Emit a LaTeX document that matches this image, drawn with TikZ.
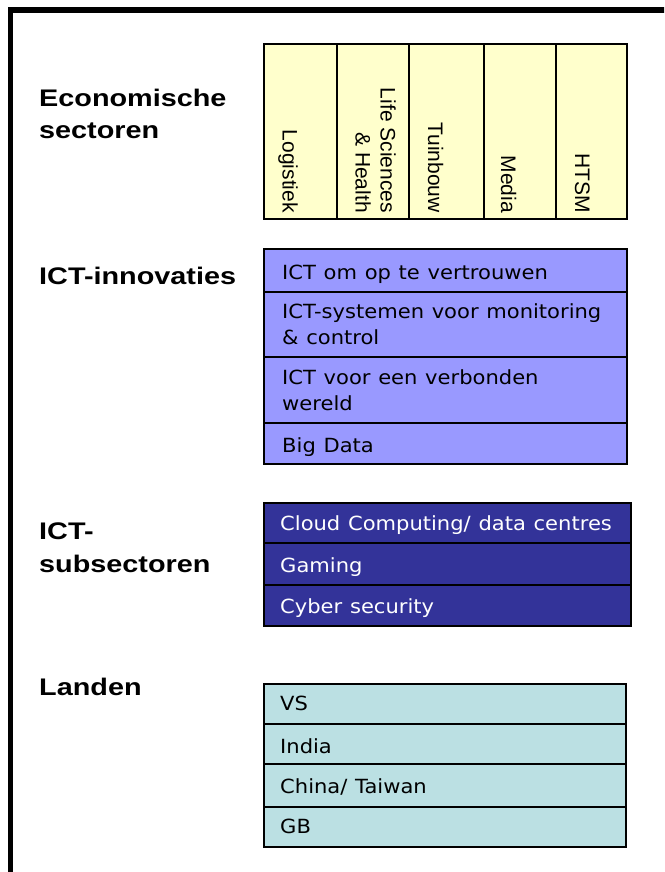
\documentclass[tikz,border=0pt]{standalone}
\usepackage{fontspec}
\setmainfont{Liberation Sans}
\newfontfamily\labfam{Liberation Sans}[FakeStretch=1.2]
\newfontfamily\cellfam{DejaVu Sans}[FakeStretch=1.08,WordSpace=1.15]
\newfontfamily\vfam{Liberation Sans}
\definecolor{sectyellow}{HTML}{FFFFCC}
\definecolor{innolav}{HTML}{9999FF}
\definecolor{subblue}{HTML}{333399}
\definecolor{landteal}{HTML}{BBE0E3}
\tikzset{
  lab/.style={anchor=base west, inner sep=0pt, align=left,
    font=\labfam\bfseries\fontsize{24}{32.5}\selectfont},
  cell/.style={draw=black, line width=1.6pt, anchor=north west, inner sep=0pt},
  ctxt/.style={anchor=base west, inner sep=0pt, align=left,
    font=\cellfam\fontsize{19.5}{26}\selectfont},
  vtxt/.style={rotate=-90, inner sep=0pt, align=right,
    font=\vfam\fontsize{21}{25}\selectfont},
}
\begin{document}
\begin{tikzpicture}[x=1pt,y=-1pt]
\useasboundingbox (0,0) rectangle (664,872);
\clip (0,0) rectangle (664,872);
\fill[white] (0,0) rectangle (664,872);
% outer frame (continues beyond the right and bottom edges)
\coordinate (fb) at (10.5,890);
\coordinate (fc) at (10.5,10);
\coordinate (fr) at (690,10);
\draw[line width=5.5pt] (fb) -- (fc) -- (fr);

% left labels (base anchor = baseline of the last line)
\node[lab] (lEco) at (39,139) {Economische\\sectoren};
\node[lab] (lInno) at (39,284) {ICT-innovaties};
\node[lab] (lSub) at (39,572) {ICT-\\subsectoren};
\node[lab] (lLand) at (39,695) {Landen};

% economische sectoren (columns)
\node[cell, fill=sectyellow, minimum width=73pt, minimum height=175pt] (cLog)  at (263,43) {};
\node[cell, fill=sectyellow, minimum width=72pt, minimum height=175pt] (cLife) at (336,43) {};
\node[cell, fill=sectyellow, minimum width=75pt, minimum height=175pt] (cTuin) at (408,43) {};
\node[cell, fill=sectyellow, minimum width=72pt, minimum height=175pt] (cMed)  at (483,43) {};
\node[cell, fill=sectyellow, minimum width=71pt, minimum height=175pt] (cHts)  at (555,43) {};
\node[vtxt, anchor=base east] (tLog) at (282.5,213) {Logistiek};
\node[vtxt, anchor=base east] (tLife) at (355.5,213) {Life Sciences\\\& Health};
\node[vtxt, anchor=base east] (tTuin) at (428,213) {Tuinbouw};
\node[vtxt, anchor=base east] (tMed) at (501,213) {Media};
\node[vtxt, anchor=base east] (tHts) at (575,213) {HTSM};

% ICT-innovaties
\node[cell, fill=innolav, minimum width=363pt, minimum height=43pt] (i1) at (263,248) {};
\node[cell, fill=innolav, minimum width=363pt, minimum height=65pt] (i2) at (263,291) {};
\node[cell, fill=innolav, minimum width=363pt, minimum height=66pt] (i3) at (263,356) {};
\node[cell, fill=innolav, minimum width=363pt, minimum height=41pt] (i4) at (263,422) {};
\node[ctxt] (ti1) at (282,279) {ICT om op te vertrouwen};
\node[ctxt] (ti2) at (282,344) {ICT-systemen voor monitoring\\\& control};
\node[ctxt] (ti3) at (282,410) {ICT voor een verbonden\\wereld};
\node[ctxt] (ti4) at (282,452) {Big Data};

% ICT-subsectoren
\node[cell, fill=subblue, minimum width=367pt, minimum height=40pt] (s1) at (263,502) {};
\node[cell, fill=subblue, minimum width=367pt, minimum height=42pt] (s2) at (263,542) {};
\node[cell, fill=subblue, minimum width=367pt, minimum height=41pt] (s3) at (263,584) {};
\node[ctxt, text=white] (ts1) at (280,530) {Cloud Computing/ data centres};
\node[ctxt, text=white] (ts2) at (280,572) {Gaming};
\node[ctxt, text=white] (ts3) at (280,613) {Cyber security};

% Landen
\node[cell, fill=landteal, minimum width=362pt, minimum height=40pt] (l1) at (263,683) {};
\node[cell, fill=landteal, minimum width=362pt, minimum height=40pt] (l2) at (263,723) {};
\node[cell, fill=landteal, minimum width=362pt, minimum height=43pt] (l3) at (263,763) {};
\node[cell, fill=landteal, minimum width=362pt, minimum height=40pt] (l4) at (263,806) {};
\node[ctxt] (tl1) at (280,710) {VS};
\node[ctxt] (tl2) at (280,753) {India};
\node[ctxt] (tl3) at (280,793) {China/ Taiwan};
\node[ctxt] (tl4) at (280,833) {GB};
\end{tikzpicture}
\end{document}
